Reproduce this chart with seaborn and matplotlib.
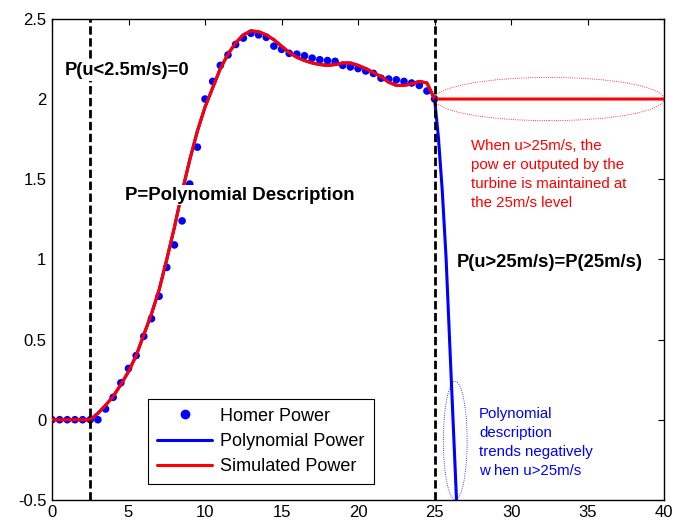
import matplotlib
matplotlib.use("Agg")
import matplotlib.pyplot as plt
from matplotlib.patches import Ellipse
from matplotlib.lines import Line2D
import seaborn as sns
import numpy as np

# wind speed grid (m/s) of the Homer table
wind_speed = [0, 0.5, 1, 1.5, 2, 2.5, 3, 3.5, 4, 4.5, 5, 5.5, 6, 6.5, 7, 7.5, 8, 8.5, 9, 9.5,
              10, 10.5, 11, 11.5, 12, 12.5, 13, 13.5, 14, 14.5, 15, 15.5, 16, 16.5, 17, 17.5,
              18, 18.5, 19, 19.5, 20, 20.5, 21, 21.5, 22, 22.5, 23, 23.5, 24, 24.5, 25]

homer_power = [0, 0, 0, 0, 0, 0, 0, 0.067, 0.14, 0.23, 0.32, 0.40, 0.52, 0.63, 0.77, 0.95, 1.09, 1.24,
               1.47, 1.70, 2.00, 2.11, 2.21, 2.275, 2.34, 2.38, 2.41, 2.40, 2.385, 2.33, 2.31, 2.285,
               2.28, 2.27, 2.255, 2.245, 2.24, 2.235, 2.21, 2.20, 2.19, 2.175, 2.16, 2.13, 2.125,
               2.12, 2.11, 2.10, 2.085, 2.05, 2.00]

sim_power = [0, 0, 0, 0, 0, 0, 0.04, 0.09, 0.145, 0.22, 0.30, 0.40, 0.53, 0.66, 0.81, 1.00, 1.20, 1.42,
             1.62, 1.80, 1.95, 2.07, 2.19, 2.28, 2.35, 2.40, 2.425, 2.42, 2.40, 2.37, 2.33, 2.29,
             2.26, 2.24, 2.225, 2.215, 2.21, 2.215, 2.225, 2.225, 2.21, 2.19, 2.165, 2.14, 2.105,
             2.085, 2.085, 2.095, 2.11, 2.10, 2.00]

# above cut-out: simulated power held at the 25 m/s value
sim_tail_u = [40]
sim_tail_p = [2.00]

# polynomial fit beyond 25 m/s falls off sharply
poly_tail_u = [25.25, 25.5, 25.75, 26, 26.25, 26.5]
poly_tail_p = [1.76, 1.43, 1.01, 0.45, -0.10, -0.65]

sim_u = wind_speed + sim_tail_u
sim_p = sim_power + sim_tail_p
poly_u = wind_speed + poly_tail_u
poly_p = sim_power + poly_tail_p

sns.set_theme(style="white")
plt.rcParams['font.family'] = ['Liberation Sans', 'DejaVu Sans']
plt.rcParams['text.color'] = 'black'
plt.rcParams['xtick.color'] = 'black'
plt.rcParams['ytick.color'] = 'black'

fig = plt.figure(figsize=(6.84, 5.24), dpi=100)
ax = fig.add_axes([0.076, 0.046, 0.895, 0.918])

sns.scatterplot(x=wind_speed, y=homer_power, color='#0000ff', s=30, edgecolor='none', ax=ax, zorder=2)
sns.lineplot(x=poly_u, y=poly_p, color='#0000ff', lw=2.2, sort=False, estimator=None, ax=ax, zorder=3)
sns.lineplot(x=sim_u, y=sim_p, color='#ff0000', lw=2.2, sort=False, estimator=None, ax=ax, zorder=4)

for xv in [2.5, 25]:
    ax.axvline(xv, color='black', lw=2, linestyle=(0, (3, 1.3)), zorder=5)

ax.add_patch(Ellipse((32.5, 2.0), 15.0, 0.27, fill=False, edgecolor='#ff0000',
                     lw=0.6, linestyle=':', zorder=6))
ax.add_patch(Ellipse((26.35, -0.13), 1.55, 0.74, fill=False, edgecolor='#0000ff',
                     lw=0.6, linestyle=':', zorder=6))

white_box = dict(facecolor='white', edgecolor='none', pad=1)
ax.text(0.85, 2.175, 'P(u<2.5m/s)=0', color='black', fontsize=13.2, fontweight='bold',
        va='center', ha='left', bbox=white_box, zorder=7)
ax.text(4.8, 1.40, 'P=Polynomial Description', color='black', fontsize=13.4, fontweight='bold',
        va='center', ha='left', bbox=white_box, zorder=7)
ax.text(26.45, 0.98, 'P(u>25m/s)=P(25m/s)', color='black', fontsize=13.2, fontweight='bold',
        va='center', ha='left', zorder=7)
ax.text(27.4, 1.75, 'When u>25m/s, the\npow er outputed by the\nturbine is maintained at\nthe 25m/s level',
        color='#ff0000', fontsize=10.8, va='top', ha='left', linespacing=1.45, zorder=7)
ax.text(27.9, 0.08, 'Polynomial\ndescription\ntrends negatively\nw hen u>25m/s',
        color='#0000ff', fontsize=10.8, va='top', ha='left', linespacing=1.45, zorder=7)

ax.set_xlim(0, 40)
ax.set_ylim(-0.5, 2.5)
ax.set_xticks([0, 5, 10, 15, 20, 25, 30, 35, 40])
ax.set_yticks([-0.5, 0, 0.5, 1, 1.5, 2, 2.5])
ax.set_yticklabels(['-0.5', '0', '0.5', '1', '1.5', '2', '2.5'])
ax.tick_params(direction='in', length=4, width=0.8, top=True, right=True,
               labelsize=12, colors='black', pad=4)
for sp in ax.spines.values():
    sp.set_color('black')
    sp.set_linewidth(1)

handles = [
    Line2D([], [], marker='o', linestyle='none', color='#0000ff', markersize=6),
    Line2D([], [], color='#0000ff', lw=2.2),
    Line2D([], [], color='#ff0000', lw=2.2),
]
leg = ax.legend(handles, ['Homer Power', 'Polynomial Power', 'Simulated Power'],
                loc='lower left', bbox_to_anchor=(0.157, 0.033), fontsize=13,
                frameon=True, fancybox=False, edgecolor='black', framealpha=1,
                handlelength=3.05, handletextpad=0.45, borderaxespad=0,
                labelspacing=0.45, borderpad=0.5)
leg.get_frame().set_linewidth(0.8)
for t in leg.get_texts():
    t.set_color('black')

fig.savefig('out.png', dpi=100)
